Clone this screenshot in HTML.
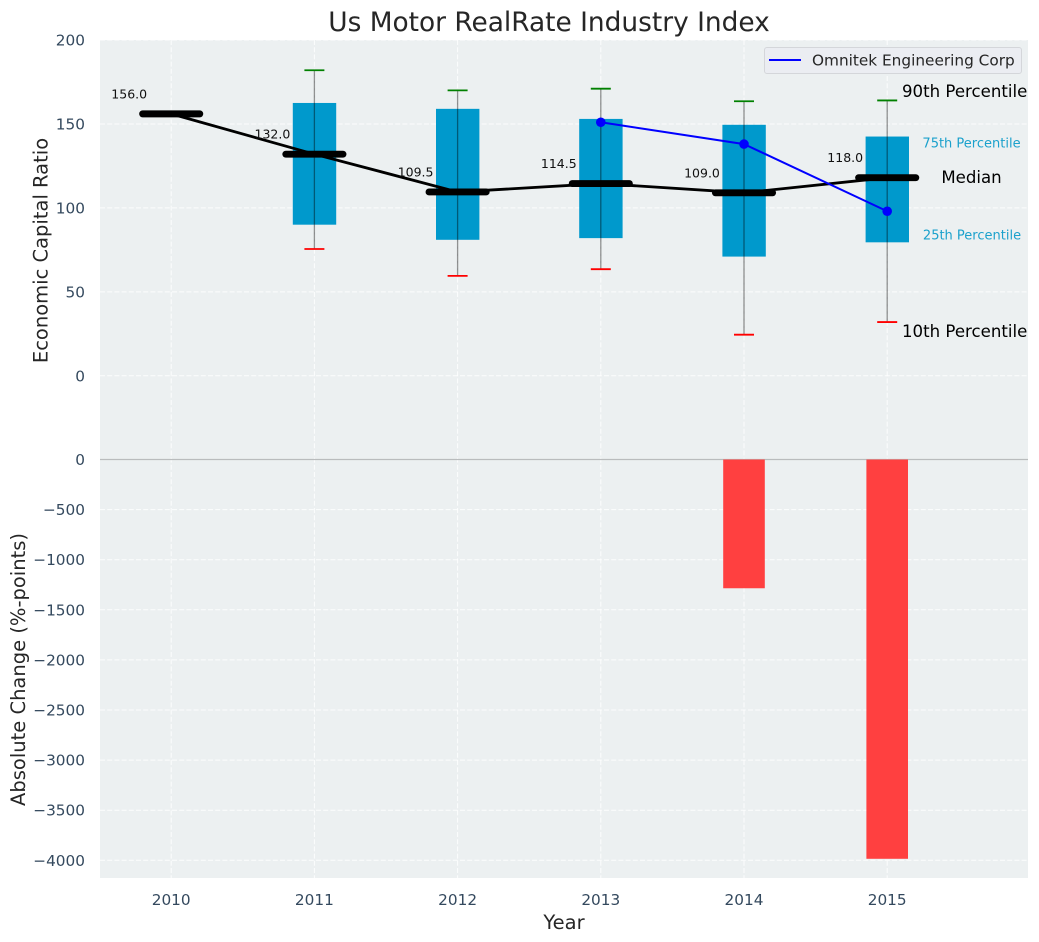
<!DOCTYPE html>
<html>
<head>
<meta charset="utf-8">
<style>
html,body{margin:0;padding:0;background:#fff;}
svg{display:block;}
text{font-family:"DejaVu Sans","Liberation Sans",sans-serif;}
</style>
</head>
<body>
<svg id="chart" xmlns="http://www.w3.org/2000/svg" width="1039" height="942" viewBox="0 0 1039 942"></svg>
<script>
const years = [2010, 2011, 2012, 2013, 2014, 2015];
const medians = [156, 132, 109.5, 114.5, 109, 118];
const boxYears = [2011, 2012, 2013, 2014, 2015];
const p90 = [182, 170, 171, 163.5, 164];
const p75 = [162.5, 159, 153, 149.5, 142.5];
const p25 = [90, 81, 82, 71, 79.5];
const p10 = [75.5, 59.5, 63.5, 24.5, 32];
const companyYears = [2013, 2014, 2015];
const companyValues = [151, 138, 98];
const changeYears = [2014, 2015];
const changeValues = [-1285, -3985];
const topTicks = [200, 150, 100, 50, 0];
const bottomTicks = [0, -500, -1000, -1500, -2000, -2500, -3000, -3500, -4000];

const plotLeft = 100, plotRight = 1028, plotTop = 40, plotMid = 459.5, plotBottom = 878;
const xOf = v => 171.2 + (v - 2010) * 143.2;
const yTop = v => 375.8 - v * 1.679;
const yBottom = v => 459.5 - v * 0.1002;

const svg = document.getElementById('chart');
function add(tag, attrs, parent) {
  const el = document.createElementNS('http://www.w3.org/2000/svg', tag);
  for (const k in attrs) el.setAttribute(k, attrs[k]);
  (parent || svg).appendChild(el);
  return el;
}
function group(name) {
  const g = add('g', {});
  
  
  return g;
}
function label(parent, str, x, y, size, fill, anchor, name) {
  const t = add('text', {x: x, y: y, 'font-size': size, fill: fill, 'text-anchor': anchor || 'middle'}, parent);
  t.textContent = str;
  
  
  return t;
}
const fmtTick = v => String(v).replace('-', '\u2212');

// backgrounds
const bg = group('plot-backgrounds');
add('rect', {x: plotLeft, y: plotTop, width: plotRight - plotLeft, height: plotBottom - plotTop, fill: '#ecf0f1'}, bg);

// grid
const grid = group('grid-lines');
const gridStyle = {stroke: '#ffffff', 'stroke-width': 1, 'stroke-dasharray': '5 2.2', 'stroke-opacity': 0.85};
years.forEach(y => {
  add('line', Object.assign({x1: xOf(y), x2: xOf(y), y1: plotTop, y2: plotBottom}, gridStyle), grid);
});
topTicks.forEach(v => {
  add('line', Object.assign({x1: plotLeft, x2: plotRight, y1: yTop(v), y2: yTop(v)}, gridStyle), grid);
});
bottomTicks.forEach(v => {
  add('line', Object.assign({x1: plotLeft, x2: plotRight, y1: yBottom(v), y2: yBottom(v)}, gridStyle), grid);
});

// zero line of lower panel
const zero = add('line', {x1: plotLeft, x2: plotRight, y1: yBottom(0), y2: yBottom(0), stroke: '#b9bcbd', 'stroke-width': 1.2});



// change bars
const bars = group('absolute-change-bars');
changeYears.forEach((y, i) => {
  const r = add('rect', {x: xOf(y) - 20.8, width: 41.6, y: yBottom(0), height: yBottom(changeValues[i]) - yBottom(0), fill: '#ff4040'}, bars);
  
  
});

// boxes
const boxes = group('percentile-boxes');
boxYears.forEach((y, i) => {
  const r = add('rect', {x: xOf(y) - 21.6, width: 43.4, y: yTop(p75[i]), height: yTop(p25[i]) - yTop(p75[i]), fill: '#0099cc'}, boxes);
  
  
});

// whiskers
const whiskers = group('whiskers');
boxYears.forEach((y, i) => {
  const w = add('line', {x1: xOf(y), x2: xOf(y), y1: yTop(p90[i]), y2: yTop(p10[i]), stroke: '#000000', 'stroke-opacity': 0.42, 'stroke-width': 1.3}, whiskers);
  
  
  const hi = add('line', {x1: xOf(y) - 10, x2: xOf(y) + 10, y1: yTop(p90[i]), y2: yTop(p90[i]), stroke: '#008000', 'stroke-width': 1.8}, whiskers);
  
  
  const lo = add('line', {x1: xOf(y) - 10, x2: xOf(y) + 10, y1: yTop(p10[i]), y2: yTop(p10[i]), stroke: '#ff0000', 'stroke-width': 1.8}, whiskers);
  
  
});

// median line
const medianPath = add('polyline', {points: years.map((y, i) => xOf(y) + ',' + yTop(medians[i])).join(' '), fill: 'none', stroke: '#000000', 'stroke-width': 2.8});



// median ticks and labels
const med = group('median-markers');
years.forEach((y, i) => {
  const m = add('line', {x1: xOf(y) - 28.6, x2: xOf(y) + 28.6, y1: yTop(medians[i]), y2: yTop(medians[i]), stroke: '#000000', 'stroke-width': 6.9, 'stroke-linecap': 'round'}, med);
  
  
  label(med, medians[i].toFixed(1), xOf(y) - 42, yTop(medians[i]) - 15.5, 12.5, '#111111', 'middle', 'median-value-' + y);
});

// company series
const comp = group('company-series');
add('polyline', {points: companyYears.map((y, i) => xOf(y) + ',' + yTop(companyValues[i])).join(' '), fill: 'none', stroke: '#0000ff', 'stroke-width': 2}, comp);
companyYears.forEach((y, i) => {
  const c = add('circle', {cx: xOf(y), cy: yTop(companyValues[i]), r: 4.8, fill: '#0000ff'}, comp);
  
  
});

// percentile annotations
const notes = group('percentile-annotations');
label(notes, '90th Percentile', 902, 97, 16.6, '#000000', 'start', 'annotation-90th');
label(notes, '75th Percentile', 971.5, 147.5, 13, '#1ba1cc', 'middle', 'annotation-75th');
label(notes, 'Median', 971.5, 183, 16.6, '#000000', 'middle', 'annotation-median');
label(notes, '25th Percentile', 972, 239.5, 13, '#1ba1cc', 'middle', 'annotation-25th');
label(notes, '10th Percentile', 902, 337, 16.6, '#000000', 'start', 'annotation-10th');

// legend
const legend = group('legend');
const lb = add('rect', {x: 764.5, y: 47.5, width: 257, height: 26, rx: 2.5, fill: '#ebedf2', stroke: '#d4d6da', 'stroke-width': 1}, legend);


const ls = add('line', {x1: 769, x2: 801, y1: 60, y2: 60, stroke: '#0000ff', 'stroke-width': 2}, legend);


label(legend, 'Omnitek Engineering Corp', 812, 65.5, 15.3, '#262626', 'start', 'legend-entry');

// tick labels
const ticks = group('tick-labels');
const tickColor = '#34495e';
topTicks.forEach(v => label(ticks, fmtTick(v), 85, yTop(v) + 5.5, 15.3, tickColor, 'end', 'y-tick-top-' + v));
bottomTicks.forEach(v => label(ticks, fmtTick(v), 85, yBottom(v) + 5.5, 15.3, tickColor, 'end', 'y-tick-bottom-' + v));
years.forEach(y => label(ticks, String(y), xOf(y), 905, 15.3, tickColor, 'middle', 'x-tick-' + y));

// titles
const titles = group('titles');
label(titles, 'Us Motor RealRate Industry Index', 549, 31, 26.4, '#262626', 'middle', 'chart-title');
label(titles, 'Year', 564, 929, 19.5, '#262626', 'middle', 'x-axis-title');
const t1 = label(titles, 'Economic Capital Ratio', 0, 0, 19.5, '#262626', 'middle', 'y-axis-title-top');
t1.setAttribute('transform', 'translate(47.5,250.5) rotate(-90)');
const t2 = label(titles, 'Absolute Change (%-points)', 0, 0, 19.5, '#262626', 'middle', 'y-axis-title-bottom');
t2.setAttribute('transform', 'translate(25,669.5) rotate(-90)');
</script>
</body>
</html>
